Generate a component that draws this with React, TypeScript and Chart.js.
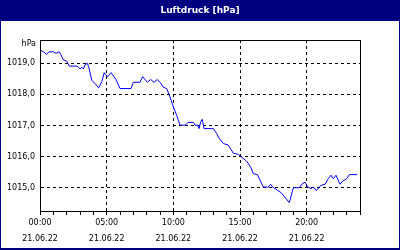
import { useEffect, useRef } from "react";
import { Chart, registerables } from "chart.js";

Chart.register(...registerables);

const chartTitle = "Luftdruck [hPa]";
const unitLabel = "hPa";
const dateLabel = "21.06.22";

const hours = [
  0, 0.25, 0.5, 0.67, 1.0, 1.2, 1.45, 1.55, 1.75, 2.0, 2.2, 2.8, 3.0, 3.13, 3.25, 3.37, 3.55, 3.65,
  3.88, 4.12, 4.4, 4.63, 4.82, 5.05, 5.33, 5.7, 6.0, 6.83, 7.0, 7.5, 7.7, 8.05, 8.3, 8.55, 8.8, 9.0,
  9.25, 9.5, 9.75, 10.0, 10.25, 10.5, 10.88, 11.12, 11.5, 11.63, 11.83, 11.93, 12.05, 12.17, 12.3,
  13.0, 13.24, 13.45, 13.75, 14.12, 14.5, 14.87, 15.13, 15.5, 15.8, 16.0, 16.3, 16.75, 17.12, 17.3,
  17.45, 17.83, 18.08, 18.7, 19.0, 19.45, 19.63, 19.88, 20.05, 20.33, 20.5, 20.7, 20.87, 21.05,
  21.38, 21.62, 21.83, 22.0, 22.2, 22.5, 22.7, 23.0, 23.2, 23.78,
];

const pressure = [
  1019.43, 1019.37, 1019.29, 1019.37, 1019.37, 1019.32, 1019.37, 1019.29, 1019.11, 1019.07, 1018.91,
  1018.91, 1018.82, 1018.87, 1018.82, 1018.95, 1019.0, 1018.89, 1018.46, 1018.35, 1018.21, 1018.41,
  1018.7, 1018.57, 1018.7, 1018.48, 1018.19, 1018.19, 1018.39, 1018.39, 1018.57, 1018.39, 1018.48,
  1018.39, 1018.48, 1018.39, 1018.23, 1018.19, 1017.92, 1017.6, 1017.33, 1017.01, 1017.01, 1017.1,
  1017.1, 1017.01, 1017.01, 1016.9, 1017.12, 1017.2, 1016.9, 1016.9, 1016.75, 1016.58, 1016.42,
  1016.37, 1016.11, 1016.07, 1015.98, 1015.85, 1015.66, 1015.45, 1015.42, 1015.02, 1015.02, 1015.11,
  1015.02, 1014.91, 1014.84, 1014.52, 1015.0, 1015.0, 1015.11, 1015.18, 1015.04, 1014.97, 1015.02,
  1014.91, 1014.97, 1015.07, 1015.11, 1015.29, 1015.4, 1015.29, 1015.4, 1015.11, 1015.21, 1015.29,
  1015.42, 1015.42,
];

const yTickValues = [1015, 1016, 1017, 1018, 1019];
const xTickHours = [0, 1, 2, 3, 4, 5, 6, 7, 8, 9, 10, 11, 12, 13, 14, 15, 16, 17, 18, 19, 20, 21, 22, 23, 24];
const xLabelHours = [0, 5, 10, 15, 20];
const timeLabels = ["00:00", "05:00", "10:00", "15:00", "20:00"];

const FONT = '"DejaVu Sans", Verdana, sans-serif';

const framePlugin = {
  id: "frame",
  beforeDraw(chart: any) {
    const ctx = chart.ctx;
    ctx.save();
    ctx.fillStyle = "#000080";
    ctx.fillRect(0, 0, chart.width, chart.height);
    ctx.fillStyle = "#ffffff";
    ctx.fillRect(1, 21, chart.width - 2, chart.height - 23);
    ctx.fillStyle = "#ffffff";
    ctx.font = "bold 9px " + FONT;
    ctx.textAlign = "center";
    ctx.textBaseline = "middle";
    ctx.fillText(chartTitle, chart.width / 2, 11);
    ctx.restore();
  },
  afterDraw(chart: any) {
    const ctx = chart.ctx;
    const a = chart.chartArea;
    ctx.save();
    ctx.strokeStyle = "#000";
    ctx.lineWidth = 1;
    ctx.setLineDash([]);
    ctx.strokeRect(a.left + 0.5, a.top + 0.5, a.right - a.left, a.bottom - a.top);
    ctx.fillStyle = "#000";
    ctx.font = "8px " + FONT;
    ctx.textAlign = "right";
    ctx.textBaseline = "middle";
    ctx.fillText(unitLabel, a.left - 4, a.top + 4);
    ctx.restore();
  },
};

export default function App() {
  const ref = useRef<HTMLCanvasElement | null>(null);

  useEffect(() => {
    if (!ref.current) return;
    const chart = new Chart(ref.current, {
      type: "line",
      data: {
        datasets: [
          {
            data: hours.map((h, i) => ({ x: h, y: pressure[i] })),
            borderColor: "#0000ff",
            borderWidth: 1,
            pointRadius: 0,
            tension: 0,
            fill: false,
          },
        ],
      },
      options: {
        animation: false,
        responsive: true,
        maintainAspectRatio: false,
        layout: { padding: { left: 0, top: 40, right: 40, bottom: 0 } },
        plugins: { legend: { display: false }, tooltip: { enabled: false }, title: { display: false } },
        scales: {
          x: {
            type: "linear",
            min: 0,
            max: 24,
            afterBuildTicks: (axis: any) => {
              axis.ticks = xTickHours.map((v) => ({ value: v }));
            },
            afterFit: (scale: any) => {
              scale.height = 39;
            },
            grid: {
              color: (ctx: any) =>
                ctx.tick && xLabelHours.includes(ctx.tick.value) ? "#000" : "rgba(0,0,0,0)",
              tickColor: "#000",
              tickLength: 4,
              tickBorderDash: [],
              drawTicks: true,
            },
            border: { color: "#000", dash: [3, 3] },
            ticks: {
              autoSkip: false,
              maxRotation: 0,
              minRotation: 0,
              padding: 0,
              color: "#000",
              font: { family: FONT, size: 8, lineHeight: 2 },
              callback: (value: any) => {
                const idx = xLabelHours.indexOf(Number(value));
                return idx >= 0 ? [timeLabels[idx], dateLabel] : "";
              },
            },
          },
          y: {
            type: "linear",
            min: 1014.25,
            max: 1019.75,
            afterBuildTicks: (axis: any) => {
              axis.ticks = yTickValues.map((v) => ({ value: v }));
            },
            afterFit: (scale: any) => {
              scale.width = 40;
            },
            grid: { color: "#000", drawTicks: false },
            border: { color: "#000", dash: [3, 3] },
            ticks: {
              padding: 5,
              color: "#000",
              font: { family: FONT, size: 8 },
              callback: (value: any) => Number(value).toFixed(1).replace(".", ","),
            },
          },
        },
      },
      plugins: [framePlugin],
    });
    return () => chart.destroy();
  }, []);

  return (
    <div style={{ position: "fixed", left: 0, top: 0, width: 400, height: 250 }}>
      <canvas ref={ref} />
    </div>
  );
}
